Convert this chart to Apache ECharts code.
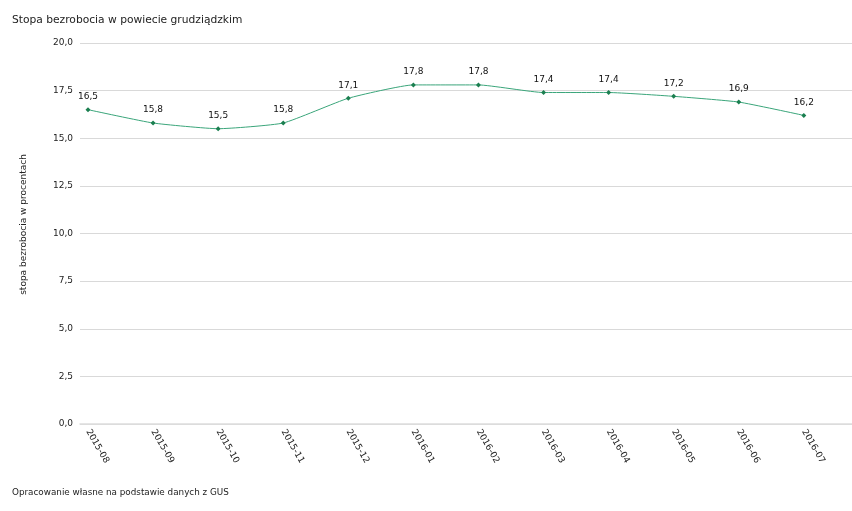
<!DOCTYPE html>
<html>
<head>
<meta charset="utf-8">
<script src="https://cdn.jsdelivr.net/npm/echarts@6/dist/echarts.min.js"></script>
<style>
html,body{margin:0;padding:0;background:#fff;}
#c{width:852px;height:511px;}
</style>
</head>
<body>
<div id="c"></div>
<script>
const categories = ['2015-08','2015-09','2015-10','2015-11','2015-12','2016-01','2016-02','2016-03','2016-04','2016-05','2016-06','2016-07'];
const values = [16.5, 15.8, 15.5, 15.8, 17.1, 17.8, 17.8, 17.4, 17.4, 17.2, 16.9, 16.2];
const yTicks = [0, 2.5, 5, 7.5, 10, 12.5, 15, 17.5, 20];
const titleText = 'Stopa bezrobocia w powiecie grudziądzkim';
const yName = 'stopa bezrobocia w procentach';
const sourceText = 'Opracowanie własne na podstawie danych z GUS';

const fmt = v => v.toFixed(1).replace('.', ',');
const chart = echarts.init(document.getElementById('c'), null, {renderer: 'canvas'});
const idx = categories.map((_, i) => i);
chart.setOption({
  animation: false,
  textStyle: {fontFamily: 'DejaVu Sans'},
  title: [
    {text: titleText, left: 12, top: 15, padding: 0, textStyle: {fontSize: 10.7, fontWeight: 'normal', color: '#222', fontFamily: 'DejaVu Sans'}},
    {text: sourceText, left: 12, top: 488, padding: 0, textStyle: {fontSize: 8.8, fontWeight: 'normal', color: '#222', fontFamily: 'DejaVu Sans'}}
  ],
  grid: {left: 80, right: 0, top: 43, bottom: 87, containLabel: false},
  xAxis: {
    type: 'value',
    min: -0.123,
    max: 11.74,
    splitLine: {show: false},
    axisLine: {show: true, lineStyle: {color: '#ddd', width: 1.5}},
    axisTick: {show: false},
    axisLabel: {
      customValues: idx,
      rotate: -60,
      fontSize: 9,
      color: '#222',
      margin: 6,
      formatter: v => categories[Math.round(v)]
    }
  },
  yAxis: {
    type: 'value',
    min: yTicks[0],
    max: yTicks[yTicks.length - 1],
    interval: 2.5,
    name: yName,
    nameLocation: 'middle',
    nameGap: 52,
    nameTextStyle: {fontSize: 9, color: '#222', padding: [0, 0, 0, 18]},
    axisLine: {show: false},
    axisTick: {show: false},
    splitLine: {lineStyle: {color: '#d9d9d9'}},
    axisLabel: {fontSize: 9, color: '#222', margin: 7, formatter: v => fmt(v)}
  },
  series: [{
    type: 'line',
    data: values.map((v, i) => [idx[i], v]),
    smooth: 0.15,
    symbol: 'diamond',
    symbolSize: 5,
    lineStyle: {color: '#3aa57a', width: 1},
    itemStyle: {color: '#1b7f50'},
    label: {show: true, position: 'top', distance: 6, fontSize: 9, color: '#111', formatter: p => fmt(p.value[1])}
  }]
});
</script>
</body>
</html>
